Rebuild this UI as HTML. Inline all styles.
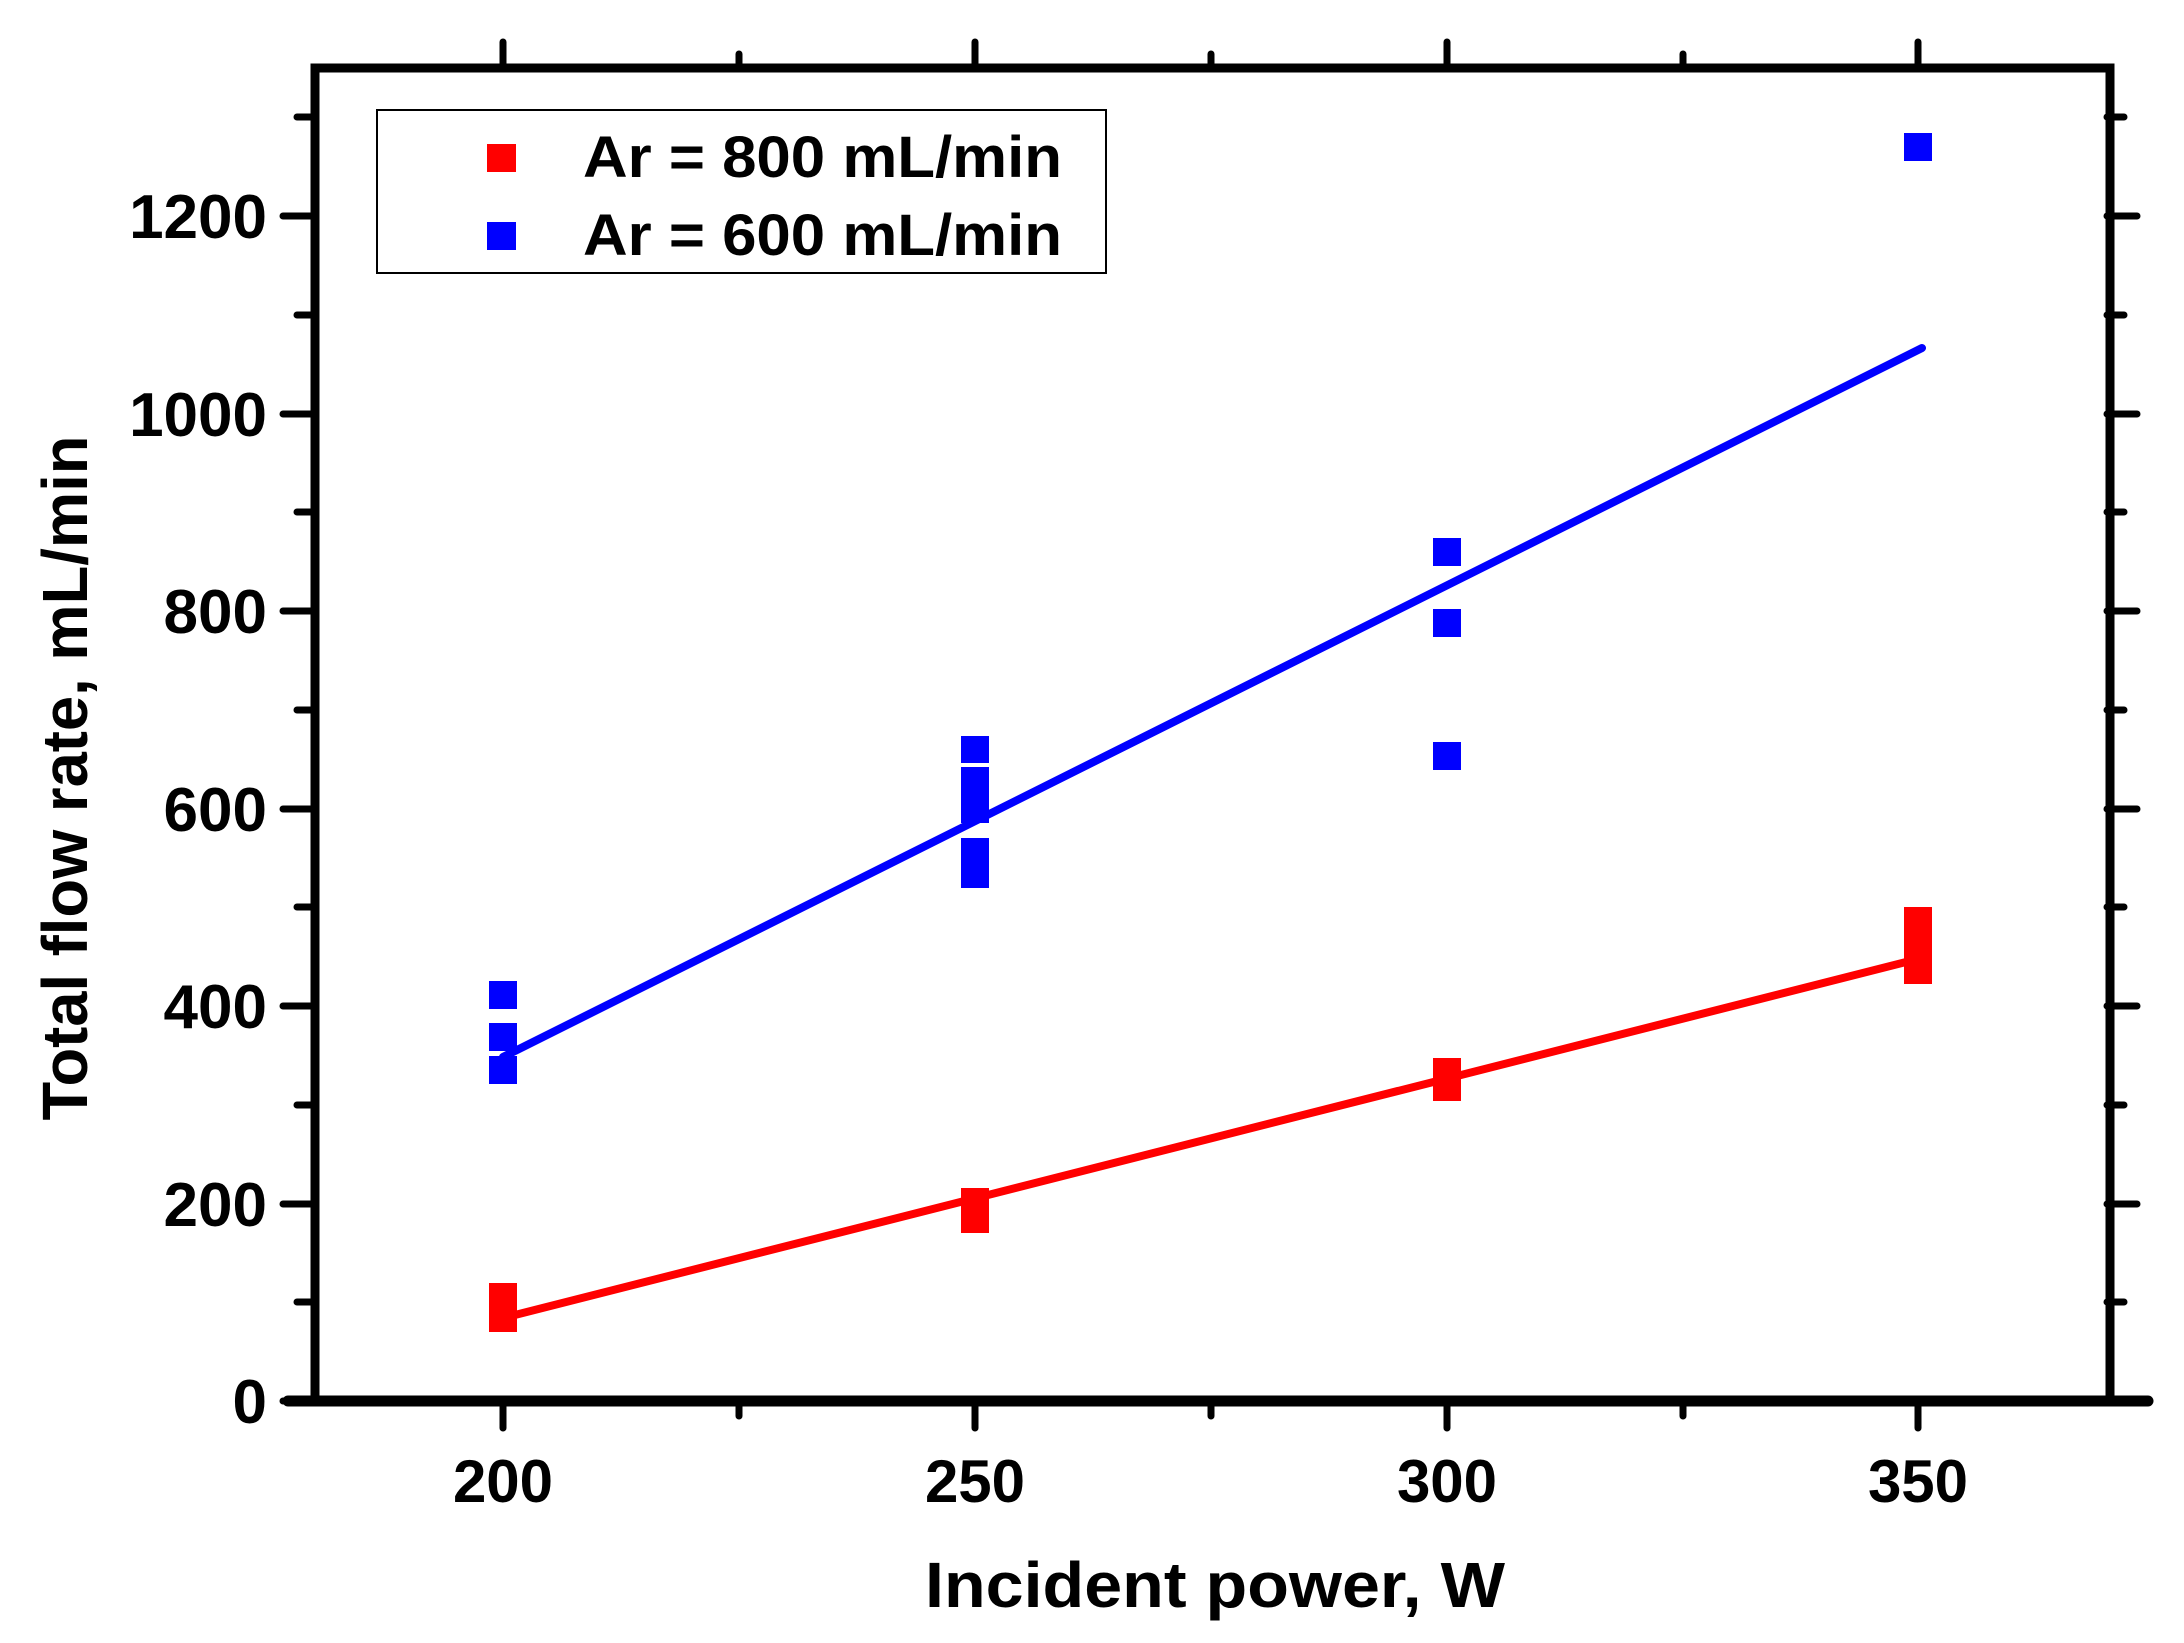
<!DOCTYPE html>
<html><head><style>html,body{margin:0;padding:0;background:#fff}svg{display:block}</style></head>
<body>
<svg width="2184" height="1643" viewBox="0 0 2184 1643" xmlns="http://www.w3.org/2000/svg" font-family="Liberation Sans, Arial, sans-serif" font-weight="bold">
<rect width="2184" height="1643" fill="#fff"/>
<g stroke="#000" stroke-linecap="round">
<g stroke-width="7">
<line x1="283" y1="1401" x2="315" y2="1401"/><line x1="283" y1="1204" x2="315" y2="1204"/><line x1="283" y1="1006" x2="315" y2="1006"/><line x1="283" y1="809" x2="315" y2="809"/><line x1="283" y1="611" x2="315" y2="611"/><line x1="283" y1="414" x2="315" y2="414"/><line x1="283" y1="216" x2="315" y2="216"/>
<line x1="297" y1="1302" x2="315" y2="1302"/><line x1="297" y1="1105" x2="315" y2="1105"/><line x1="297" y1="907" x2="315" y2="907"/><line x1="297" y1="710" x2="315" y2="710"/><line x1="297" y1="512" x2="315" y2="512"/><line x1="297" y1="315" x2="315" y2="315"/><line x1="297" y1="117" x2="315" y2="117"/>
<line x1="2107" y1="1204" x2="2137" y2="1204"/><line x1="2107" y1="1006" x2="2137" y2="1006"/><line x1="2107" y1="809" x2="2137" y2="809"/><line x1="2107" y1="611" x2="2137" y2="611"/><line x1="2107" y1="414" x2="2137" y2="414"/><line x1="2107" y1="216" x2="2137" y2="216"/>
<line x1="2107" y1="1302" x2="2124" y2="1302"/><line x1="2107" y1="1105" x2="2124" y2="1105"/><line x1="2107" y1="907" x2="2124" y2="907"/><line x1="2107" y1="710" x2="2124" y2="710"/><line x1="2107" y1="512" x2="2124" y2="512"/><line x1="2107" y1="315" x2="2124" y2="315"/><line x1="2107" y1="117" x2="2124" y2="117"/>
<line x1="503" y1="1401" x2="503" y2="1428"/><line x1="975" y1="1401" x2="975" y2="1428"/><line x1="1447" y1="1401" x2="1447" y2="1428"/><line x1="1918" y1="1401" x2="1918" y2="1428"/>
<line x1="739" y1="1401" x2="739" y2="1416"/><line x1="1211" y1="1401" x2="1211" y2="1416"/><line x1="1683" y1="1401" x2="1683" y2="1416"/>
<line x1="503" y1="68" x2="503" y2="42"/><line x1="975" y1="68" x2="975" y2="42"/><line x1="1447" y1="68" x2="1447" y2="42"/><line x1="1918" y1="68" x2="1918" y2="42"/>
<line x1="739" y1="68" x2="739" y2="54"/><line x1="1211" y1="68" x2="1211" y2="54"/><line x1="1683" y1="68" x2="1683" y2="54"/>
</g>
<rect x="315" y="68" width="1795" height="1333" fill="none" stroke-width="9" stroke-linecap="butt"/>
<line x1="288" y1="1401" x2="2148" y2="1401" stroke-width="11"/>
</g>
<line x1="503" y1="1057" x2="1922" y2="348" stroke="#00f" stroke-width="8" stroke-linecap="round"/>
<line x1="503" y1="1318" x2="1922" y2="958" stroke="#f00" stroke-width="8" stroke-linecap="round"/>
<g fill="#00f">
<rect x="489" y="981" width="28" height="28"/><rect x="489" y="1023" width="28" height="28"/><rect x="489" y="1056" width="28" height="28"/>
<rect x="961" y="736" width="28" height="27"/><rect x="961" y="767" width="28" height="28"/><rect x="961" y="795" width="28" height="28"/><rect x="961" y="838" width="28" height="28"/><rect x="961" y="860" width="28" height="28"/>
<rect x="1433" y="538" width="28" height="28"/><rect x="1433" y="609" width="28" height="28"/><rect x="1433" y="742" width="28" height="28"/>
<rect x="1904" y="133" width="28" height="28"/>
</g>
<g fill="#f00">
<rect x="489" y="1283" width="28" height="28"/><rect x="489" y="1304" width="28" height="28"/>
<rect x="961" y="1188" width="28" height="28"/><rect x="961" y="1205" width="28" height="28"/>
<rect x="1433" y="1058" width="28" height="28"/><rect x="1433" y="1073" width="28" height="28"/>
<rect x="1904" y="907" width="28" height="28"/><rect x="1904" y="930" width="28" height="28"/><rect x="1904" y="956" width="28" height="28"/>
</g>
<g font-size="62" text-anchor="end">
<text x="267" y="1423">0</text><text x="267" y="1226">200</text><text x="267" y="1028">400</text><text x="267" y="831">600</text><text x="267" y="633">800</text><text x="267" y="436">1000</text><text x="267" y="238">1200</text>
</g>
<g font-size="60" text-anchor="middle">
<text x="503" y="1502">200</text><text x="975" y="1502">250</text><text x="1447" y="1502">300</text><text x="1918" y="1502">350</text>
</g>
<text x="1215" y="1607" font-size="64" text-anchor="middle" textLength="580" lengthAdjust="spacingAndGlyphs">Incident power, W</text>
<text transform="translate(87,778) rotate(-90)" font-size="64" text-anchor="middle" textLength="685" lengthAdjust="spacingAndGlyphs">Total flow rate, mL/min</text>
<rect x="377" y="110" width="729" height="163" fill="#fff" stroke="#000" stroke-width="2"/>
<rect x="487" y="144" width="29" height="28" fill="#f00"/>
<rect x="487" y="222" width="29" height="28" fill="#00f"/>
<text x="583" y="177" font-size="58" textLength="479" lengthAdjust="spacingAndGlyphs">Ar = 800 mL/min</text>
<text x="583" y="255" font-size="58" textLength="479" lengthAdjust="spacingAndGlyphs">Ar = 600 mL/min</text>
</svg>
</body></html>
